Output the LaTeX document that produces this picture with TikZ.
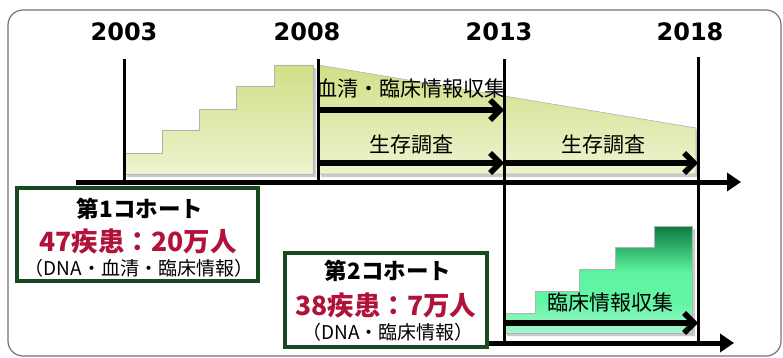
\documentclass[tikz,border=0pt]{standalone}
\usepackage{fontspec}
\setmainfont{DejaVu Sans}
\newfontfamily\jp{Noto Sans CJK JP}
\usetikzlibrary{arrows.meta,shadows}
\definecolor{stairtop}{HTML}{D2DF88}
\definecolor{stairbot}{HTML}{EEF3CF}
\definecolor{gtop}{HTML}{0B7A3E}
\definecolor{gmid}{HTML}{5FF5A2}
\definecolor{gbot}{HTML}{A8F5CE}
\definecolor{boxgreen}{HTML}{174A1E}
\definecolor{cred}{HTML}{B01239}
\pgfdeclareverticalshading{greenstair}{100bp}{color(0bp)=(gbot); color(25bp)=(gbot); color(40bp)=(gmid); color(53bp)=(gmid); color(75bp)=(gtop); color(100bp)=(gtop)}
\begin{document}
\begin{tikzpicture}[x=1pt,y=-1pt,
  frame/.style={draw=black!55,line width=1.2pt,rounded corners=15pt},
  year/.style={font=\bfseries\fontsize{24}{28}\selectfont,inner sep=0pt},
  vline/.style={line width=3pt},
  axis/.style={line width=5pt,-{Triangle[length=14pt,width=18pt]}},
  barrow/.style={line width=5.5pt,-{Straight Barb[length=10pt,width=20pt]}},
  lbl/.style={font=\jp\fontsize{21}{24}\selectfont,inner sep=0pt},
  stair/.style={draw=black!30,line width=0.6pt,top color=stairtop,bottom color=stairbot,
     drop shadow={shadow xshift=3pt,shadow yshift=-3pt,opacity=0.35,fill=black!60}},
  gstair/.style={draw=black!30,line width=0.6pt,shading=greenstair,
     drop shadow={shadow xshift=3pt,shadow yshift=-3pt,opacity=0.35,fill=black!60}},
  cbox/.style={draw=boxgreen,line width=3.5pt,fill=white,inner sep=0pt},
  ctitle/.style={font=\jp\bfseries\fontsize{22.5}{26}\selectfont,inner sep=0pt},
  cnum/.style={font=\jp\bfseries\fontsize{26.5}{30}\selectfont,text=cred,inner sep=0pt},
  cnote/.style={font=\jp\fontsize{19}{22}\selectfont,inner sep=0pt}
]
\useasboundingbox (0,0) rectangle (783,358);
\draw[frame] (8,10) rectangle (781,356);

% staircase 1 and trapezoid
\path[stair] (124,174) -- (124,153) -- (162,153) -- (162,130) -- (199,130) -- (199,109)
  -- (236,109) -- (236,86) -- (274,86) -- (274,65) -- (313,65) -- (313,174) -- cycle;
\path[stair] (318,65) -- (696,128) -- (696,174) -- (318,174) -- cycle;

% staircase 2
\path[gstair] (504,333) -- (504,313) -- (535,313) -- (535,291) -- (579,291) -- (579,269)
  -- (615,269) -- (615,247) -- (654,247) -- (654,226) -- (692,226) -- (692,333) -- cycle;

% year labels
\node[year] (y2003) at (124,32) {2003};
\node[year] (y2008) at (307,32) {2008};
\node[year] (y2013) at (499,32) {2013};
\node[year] (y2018) at (690,32) {2018};

% coordinates
\coordinate (t2003) at (124,59);  \coordinate (b2003) at (124,182);
\coordinate (t2008) at (318,59);  \coordinate (b2008) at (318,182);
\coordinate (t2013) at (504,59);  \coordinate (b2013) at (504,343);
\coordinate (t2018) at (698,57);  \coordinate (b2018) at (698,343);
\coordinate (ax1s) at (76,182);   \coordinate (ax1e) at (741,182);
\coordinate (ax2s) at (470,343);  \coordinate (ax2e) at (734,343);

\draw[vline] (t2003) -- (b2003);
\draw[vline] (t2008) -- (b2008);
\draw[vline] (t2013) -- (b2013);
\draw[vline] (t2018) -- (b2018);

\draw[axis] (ax1s) -- (ax1e);
\draw[axis] (ax2s) -- (ax2e);

% arrows
\coordinate (a08a) at (318,110); \coordinate (a13a) at (504,110);
\coordinate (a08b) at (318,163); \coordinate (a13b) at (504,163); \coordinate (a18b) at (698,163);
\coordinate (a13c) at (504,323); \coordinate (a18c) at (698,323);
\draw[barrow] (a08a) -- (a13a);
\draw[barrow] (a08b) -- (a13b);
\draw[barrow] (a13b) -- (a18b);
\draw[barrow] (a13c) -- (a18c);

\node[lbl] (l1) at (411,89) {血清・臨床情報収集};
\node[lbl] (l2) at (411,145) {生存調査};
\node[lbl] (l3) at (603,145) {生存調査};
\node[lbl] (l4) at (610,303) {臨床情報収集};

% cohort boxes
\node[cbox,minimum width=241pt,minimum height=93pt] (c1) at (137.5,234.5) {};
\node[ctitle] (c1t) at (140,209) {第1コホート};
\node[cnum] (c1n) at (138,241) {47疾患：20万人};
\node[cnote] (c1d) at (139,268) {（DNA・血清・臨床情報）};

\node[cbox,minimum width=202pt,minimum height=94pt] (c2) at (386,300) {};
\node[ctitle] (c2t) at (388,271) {第2コホート};
\node[cnum] (c2n) at (386,305) {38疾患：7万人};
\node[cnote] (c2d) at (388,332) {（DNA・臨床情報）};
\end{tikzpicture}
\end{document}
